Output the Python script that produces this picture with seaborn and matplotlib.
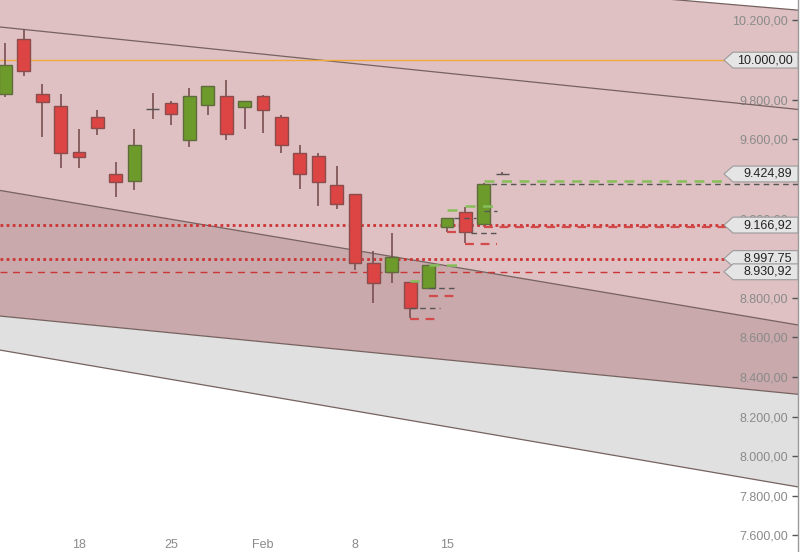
import matplotlib
matplotlib.use("Agg")
import matplotlib.pyplot as plt
import seaborn as sns
import pandas as pd
from matplotlib.patches import Polygon
from matplotlib.transforms import blended_transform_factory

# daily candles, trading-day index 0 = 12 Jan
opens = [9829, 10106, 9829, 9768, 9536, 9713, 9425, 9389, 9753, 9783,
         9596, 9773, 9819, 9763, 9819, 9713, 9531, 9516, 9369, 9324,
         8975, 8930, 8879, 8849, 9157, 9233, 9172, 9424.89]
highs = [10086, 10157, 9879, 9829, 9652, 9748, 9485, 9652, 9834, 9793,
         9859, 9869, 9899, 9793, 9824, 9723, 9571, 9531, 9465, 9324,
         9036, 9127, 8879, 8965, 9203, 9258, 9380, 9436]
lows = [9815, 9920, 9612, 9455, 9455, 9622, 9309, 9344, 9703, 9672,
        9561, 9723, 9596, 9652, 9632, 9531, 9349, 9263, 9248, 8940,
        8773, 8874, 8698, 8849, 9132, 9076, 9165, 9424.89]
closes = [9975, 9945, 9788, 9531, 9511, 9657, 9384, 9571, 9753, 9728,
          9819, 9869, 9627, 9793, 9748, 9571, 9425, 9384, 9273, 8975,
          8874, 9006, 8748, 8965, 9203, 9132, 9374, 9424.89]

x_tick_pos = [4, 9, 14, 19, 24]
x_tick_text = ["18", "25", "Feb", "8", "15"]

# labels hidden behind the price tags are left empty
y_ticks = [7600, 7800, 8000, 8200, 8400, 8600, 8800, 9000, 9200, 9400,
           9600, 9800, 10000, 10200]
y_tick_text = ["7.600,00", "7.800,00", "8.000,00", "8.200,00", "8.400,00",
               "8.600,00", "8.800,00", "", "9.200,00", "",
               "9.600,00", "9.800,00", "", "10.200,00"]

# trend channels (value at the two ends)
chan_x = [-1, 44]
chan_top = [10600, 10245]
chan_mid = [10174, 9742]
chan_b = [9353, 8648]
chan_c = [8714, 8304]
chan_d = [8547, 7830]

# horizontal levels
level_vals = [10000, 9166.92, 8997.75, 8930.92]
level_styles = ["solid", "dotted", "dotted", "dashed"]

# price tags on the right
tag_vals = [10000, 9424.89, 9166.92, 8997.75, 8930.92]
tag_text = ["10.000,00", "9.424,89", "9.166,92", "8.997.75", "8.930,92"]

# short projection lines after the recent candles
seg_start = [22.0, 22.0, 22.0, 23.0, 23.0, 23.0, 24.0, 24.4, 24.0,
             25.0, 25.3, 25.0, 26.0, 26.0, 26.4, 26.0]
seg_end = [22.5, 23.6, 23.6, 24.6, 24.6, 24.6, 24.7, 25.6, 24.6,
           26.7, 26.7, 26.7, 26.7, 39.2, 44.0, 39.2]
seg_val = [8886, 8748, 8693, 8965, 8849, 8809, 9243, 9204, 9133,
           9265, 9128, 9071, 9238, 9391, 9374, 9159]
seg_kind = ["g", "k", "r", "g", "k", "r", "g", "k", "r",
            "g", "k", "r", "k", "g", "k", "r"]

sns.set_theme(style="white")
plt.rcParams["font.family"] = ["Liberation Sans", "DejaVu Sans"]

pink = "#dfc1c3"
dark_pink = "#c9a9ab"
grey = "#e0e0e0"

fig = plt.figure(figsize=(8, 5.52), dpi=100)
ax = fig.add_axes([0, 0, 798 / 800, 1])
ax.set_facecolor("white")

# channel fills
ax.fill_between(chan_x, chan_top, chan_b, color=pink, lw=0, zorder=0.5)
ax.fill_between(chan_x, chan_b, chan_c, color=dark_pink, lw=0, zorder=0.5)
ax.fill_between(chan_x, chan_c, chan_d, color=grey, lw=0, zorder=0.5)

chan_df = pd.DataFrame({"x": chan_x * 5,
                        "y": chan_top + chan_mid + chan_b + chan_c + chan_d,
                        "line": sum([[n] * 2 for n in "TMBCD"], [])})
sns.lineplot(data=chan_df, x="x", y="y", units="line", estimator=None,
             color="#76625f", lw=0.9, ax=ax, zorder=1)

# horizontal levels
ax.axhline(level_vals[0], color="#f0aa3c", lw=1.0, zorder=2)
for v, ls in zip(level_vals[1:], level_styles[1:]):
    if ls == "dotted":
        ax.axhline(v, color="#cc3535", lw=2, ls=(0, (1, 1.2)), zorder=2)
    else:
        ax.axhline(v, color="#cc3535", lw=1, ls=(0, (5, 4)), zorder=2)

# projection segments
kind_style = {"g": ("#86bf5a", 1.8), "k": ("#555555", 1.0), "r": ("#d24a4a", 1.6)}
for x0, x1, v, k in zip(seg_start, seg_end, seg_val, seg_kind):
    c, w = kind_style[k]
    ax.plot([x0, x1], [v, v], color=c, lw=w, ls=(0, (4, 3)), zorder=4)

# candles
idx = list(range(len(opens)))
for i, o, h, l, c in zip(idx, opens, highs, lows, closes):
    ax.vlines(i, l, h, color="#7a5050", lw=1.2, zorder=3)
    if c > o:
        fc, ec = "#6d9b2b", "#5f6b3e"
    elif c < o:
        fc, ec = "#dd4444", "#8a4c4c"
    else:
        fc, ec = "#555555", "#555555"
    ax.bar(i, abs(c - o), bottom=min(o, c), width=0.7, color=fc,
           edgecolor=ec, lw=1, zorder=3.5)

# price tags
trans = blended_transform_factory(ax.transAxes, ax.transData)
half = 40
tip = 724 / 798
box = 733 / 798
for v, t in zip(tag_vals, tag_text):
    ax.add_patch(Polygon([(tip, v), (box, v + half), (1.0, v + half),
                          (1.0, v - half), (box, v - half)], closed=True,
                         transform=trans, facecolor="#e5e5e5",
                         edgecolor="#9a9a9a", lw=0.8, zorder=6, clip_on=False))
    ax.text(0.993, v, t, transform=trans, ha="right", va="center",
            fontsize=9, color="#222222", zorder=7)

ax.set_xlim(-0.293, 43.08)
ax.set_ylim(7516, 10303.5)

ax.yaxis.tick_right()
ax.set_yticks(y_ticks, labels=y_tick_text, ha="right")
ax.tick_params(axis="y", direction="in", length=4, width=1, color="#555555",
               labelcolor="#8a8a8a", labelsize=9, pad=-7)
ax.set_xticks(x_tick_pos, labels=x_tick_text, va="baseline")
ax.tick_params(axis="x", direction="in", length=4, width=1, color="#777777",
               labelcolor="#8a8a8a", labelsize=9, pad=-3)

for side in ["top", "left", "bottom"]:
    ax.spines[side].set_visible(False)
ax.spines["right"].set_color("#9a9a9a")
ax.spines["right"].set_linewidth(1)
ax.set_xlabel("")
ax.set_ylabel("")

fig.savefig("out.png", dpi=100)
